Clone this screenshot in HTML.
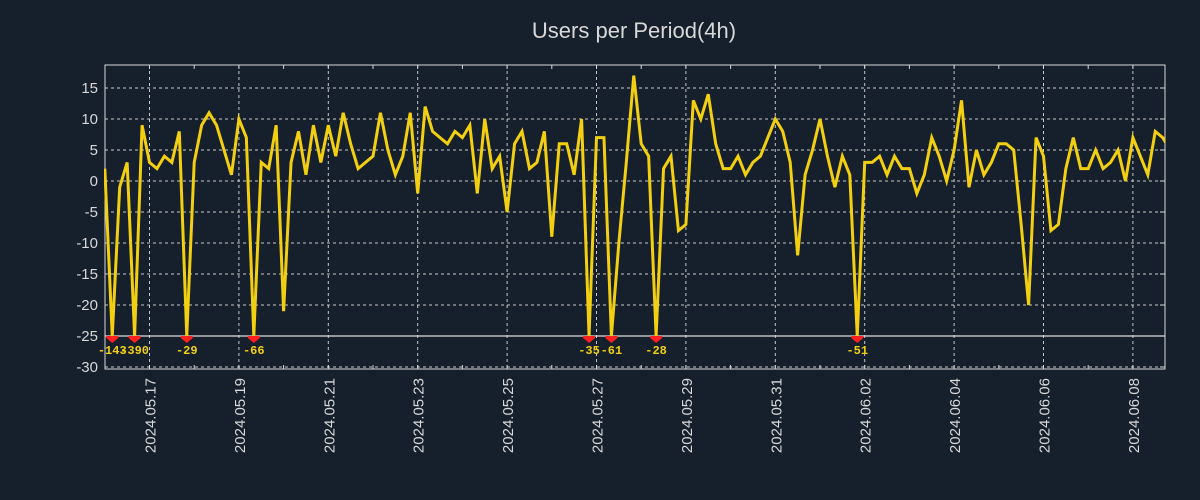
<!DOCTYPE html>
<html><head><meta charset="utf-8"><style>
html,body{margin:0;padding:0;background:#161f2c;}
svg{display:block;font-family:"Liberation Sans","DejaVu Sans",sans-serif;}
</style></head><body>
<svg id="chart" width="1200" height="500" viewBox="0 0 1200 500" xmlns="http://www.w3.org/2000/svg">
<defs><clipPath id="plotclip"><rect x="104" y="65" width="1061" height="304"/></clipPath></defs>
<rect x="0" y="0" width="1200" height="500" fill="#161f2c"/>
<text x="634" y="38" text-anchor="middle" font-size="22" fill="#d8d8d8">Users per Period(4h)</text>
<g id="grid"></g><g id="axes"></g><g id="series" clip-path="url(#plotclip)"></g><g id="markers"></g>
</svg>
<script>
const startLabel = "2024.05.16";
const periodHours = 4;
const values = [2,-143,-1,3,-390,9,3,2,4,3,8,-29,3,9,11,9,5,1,10,7,-66,3,2,9,-21,3,8,1,9,3,9,4,11,6,2,3,4,11,5,1,4,11,-2,12,8,7,6,8,7,9,-2,10,2,4,-5,6,8,2,3,8,-9,6,6,1,10,-35,7,7,-61,-10,3,17,6,4,-28,2,4,-8,-7,13,10,14,6,2,2,4,1,3,4,7,10,8,3,-12,1,5,10,4,-1,4,1,-51,3,3,4,1,4,2,2,-2,1,7,4,0,5,13,-1,5,1,3,6,6,5,-7,-20,7,4,-8,-7,2,7,2,2,5,2,3,5,0,7,4,1,8,7,5];
const yTicks = [15,10,5,0,-5,-10,-15,-20,-25,-30];
const xTickLabels = ["2024.05.17","2024.05.19","2024.05.21","2024.05.23","2024.05.25","2024.05.27","2024.05.29","2024.05.31","2024.06.02","2024.06.04","2024.06.06","2024.06.08"];
const xTickDays = [1,3,5,7,9,11,13,15,17,19,21,23];
const clipValue = -25;

const NS="http://www.w3.org/2000/svg";
const L=105,R=1165,T=65,B=369;
function y(v){return 181-v*6.2;}
function xh(h){return 104.8+h*(7.45/4);}
function mk(tag,attrs,parent){const e=document.createElementNS(NS,tag);for(const k in attrs)e.setAttribute(k,attrs[k]);parent.appendChild(e);return e;}
const grid=document.getElementById('grid'),axes=document.getElementById('axes'),series=document.getElementById('series'),markers=document.getElementById('markers');

yTicks.forEach(v=>{
  const g=mk('line',{x1:L,x2:R,y1:y(v),y2:y(v),stroke:'#c8c8c8','stroke-width':1,'stroke-dasharray':'3,3'},grid);
  
  
  const t=mk('text',{x:98,y:y(v)+5,'text-anchor':'end','font-size':15,fill:'#d8d8d8'},axes);
  t.textContent=v;
  
  
  mk('line',{x1:R-5,x2:R,y1:y(v),y2:y(v),stroke:'#d8d8d8'},axes);
});
for(let d=0;d<=24;d++){
  const xx=xh(d*24); if(xx>R||xx<L)continue;
  mk('line',{x1:xx,x2:xx,y1:T,y2:T+4,stroke:'#d8d8d8'},axes);
  mk('line',{x1:xx,x2:xx,y1:B,y2:B-4,stroke:'#d8d8d8'},axes);
}
xTickDays.forEach((d,i)=>{
  const xx=xh(d*24);
  const g=mk('line',{x1:xx,x2:xx,y1:T,y2:B,stroke:'#c8c8c8','stroke-width':1,'stroke-dasharray':'3,3'},grid);
  
  
  const t=mk('text',{x:0,y:0,'text-anchor':'end','font-size':15,fill:'#d8d8d8',transform:`translate(${xx+6},378) rotate(-90)`},axes);
  t.textContent=xTickLabels[i];
  
  
});
const frame=mk('rect',{x:L,y:T,width:R-L,height:B-T,fill:'none',stroke:'#d8d8d8','stroke-width':1},axes);


const cl=mk('line',{x1:L,x2:R,y1:y(clipValue),y2:y(clipValue),stroke:'#e0e0e0','stroke-width':1.2},axes);



const pts=values.map((v,i)=>[xh(i*periodHours),y(Math.max(v,clipValue))]);
const line=mk('polyline',{points:pts.map(p=>p.join(',')).join(' '),fill:'none',stroke:'#f2cf10','stroke-width':3,'stroke-linejoin':'miter'},series);



values.forEach((v,i)=>{
  if(v<clipValue){
    const xx=xh(i*periodHours),yy=y(clipValue);
    const m=mk('polygon',{points:`${xx-6},${yy} ${xx+6},${yy} ${xx+6},${yy+2} ${xx},${yy+7} ${xx-6},${yy+2}`,fill:'#ff2020'},markers);
    
    
    const t=mk('text',{x:xx,y:yy+18,'text-anchor':'middle','font-size':12,'font-weight':'bold','font-family':'"Liberation Mono",monospace',fill:'#f2cf10'},markers);
    t.textContent=v;
    
    
  }
});
</script>
</body></html>
